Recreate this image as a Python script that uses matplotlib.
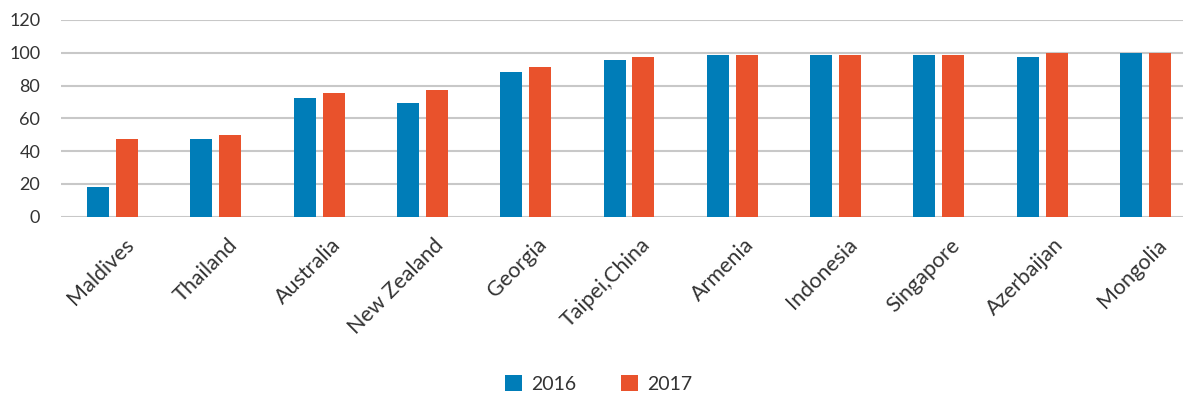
import matplotlib
matplotlib.use("Agg")
import matplotlib.pyplot as plt
import matplotlib.transforms as mtransforms
import numpy as np

categories = ["Maldives", "Thailand", "Australia", "New Zealand", "Georgia",
              "Taipei,China", "Armenia", "Indonesia", "Singapore", "Azerbaijan", "Mongolia"]
series_2016 = [18, 47.5, 72.5, 69.5, 88.5, 95.5, 98.5, 98.5, 98.5, 97.5, 100]
series_2017 = [47.5, 50, 75.5, 77, 91.5, 97.5, 98.5, 98.5, 98.5, 100, 100]
yticks = [0, 20, 40, 60, 80, 100, 120]

plt.rcParams['font.family'] = ['Lato', 'DejaVu Sans']
text_color = "#333333"
blue = "#007DB8"
orange = "#E9522C"

fig = plt.figure(figsize=(11.83, 3.96), dpi=100)
ax = fig.add_axes([61/1183, 1 - 216.7/396, 1 - 61/1183, (216.7 - 20)/396])

x = np.arange(len(categories))
w = 0.213
off = 0.14
ax.bar(x - off, series_2016, width=w, color=blue, label="2016", zorder=3)
ax.bar(x + off, series_2017, width=w, color=orange, label="2017", zorder=3)

ax.set_ylim(0, 120)
ax.set_xlim(-0.5, 10.364)
ax.set_yticks(yticks)
ax.set_yticklabels([str(v) for v in yticks], fontsize=13, color=text_color)
ax.yaxis.grid(True, color="#C8C8C8", linewidth=1.5, zorder=0)
ax.set_axisbelow(True)
for s in ax.spines.values():
    s.set_visible(False)
ax.tick_params(axis='y', length=0, pad=15)
ax.tick_params(axis='x', length=0, pad=8)
ax.set_xticks(x)
ax.set_xticklabels(categories, rotation=45, ha='right', rotation_mode='anchor',
                   fontsize=15.5, color=text_color)
shift = mtransforms.ScaledTranslation(0.11, -0.07, fig.dpi_scale_trans)
for lab in ax.get_xticklabels():
    lab.set_transform(lab.get_transform() + shift)

leg = fig.legend(loc='center', bbox_to_anchor=(0.506, 0.03), ncol=2, frameon=False,
                 fontsize=14, handlelength=0.9, handleheight=0.9, columnspacing=2.3,
                 handletextpad=0.45)
for t in leg.get_texts():
    t.set_color(text_color)

fig.savefig("out.png", dpi=100)
